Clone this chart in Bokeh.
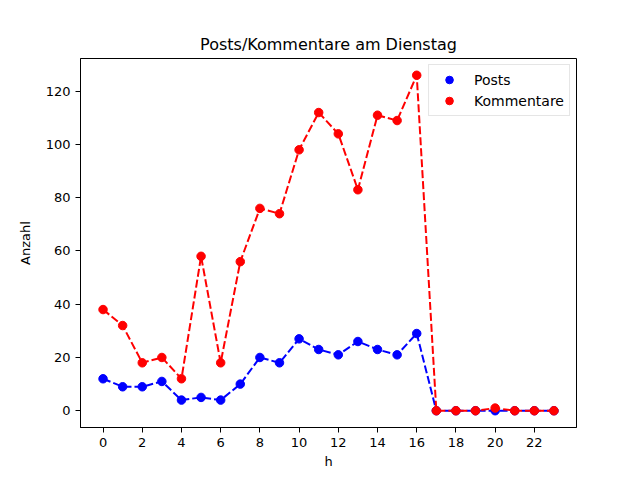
from bokeh.plotting import figure
from bokeh.models import Range1d, Legend, LegendItem, FixedTicker
from bokeh.embed import file_html
from bokeh.resources import INLINE

hours = list(range(24))
posts = [12, 9, 9, 11, 4, 5, 4, 10, 20, 18, 27, 23, 21, 26, 23, 21, 29, 0, 0, 0, 0, 0, 0, 0]
kommentare = [38, 32, 18, 20, 12, 58, 18, 56, 76, 74, 98, 112, 104, 83, 111, 109, 126, 0, 0, 0, 1, 0, 0, 0]
x_ticks = list(range(0, 24, 2))
y_ticks = list(range(0, 121, 20))

FONT = "DejaVu Sans"

p = figure(width=640, height=480, output_backend="svg", toolbar_location=None,
           x_range=Range1d(-1.15, 24.15), y_range=Range1d(-6.3, 132.3),
           title="Posts/Kommentare am Dienstag",
           min_border_left=80, min_border_right=64, min_border_top=58, min_border_bottom=53)
p.title.align = "center"
p.title.text_font = FONT
p.title.text_font_size = "16px"
p.title.text_font_style = "normal"
p.title.text_color = "black"
p.grid.visible = False
p.outline_line_color = "black"
p.outline_line_width = 1
p.outline_line_alpha = 1

for ax in (p.xaxis[0], p.yaxis[0]):
    ax.major_tick_in = 0
    ax.major_tick_out = 5
    ax.minor_tick_line_color = None
    ax.major_label_text_font = FONT
    ax.major_label_text_font_size = "13px"
    ax.major_label_text_color = "black"
    ax.axis_label_text_font = FONT
    ax.axis_label_text_font_size = "13px"
    ax.axis_label_text_font_style = "normal"
    ax.axis_label_text_color = "black"
    ax.axis_line_color = "black"
    ax.major_tick_line_color = "black"

p.xaxis[0].ticker = FixedTicker(ticks=x_ticks)
p.yaxis[0].ticker = FixedTicker(ticks=y_ticks)
p.xaxis[0].axis_label = "h"
p.yaxis[0].axis_label = "Anzahl"
p.yaxis[0].major_label_orientation = "horizontal"
p.xaxis[0].axis_label_standoff = 4
p.yaxis[0].axis_label_standoff = 10

p.line(hours, posts, line_color="blue", line_dash="8 3", line_width=2)
r_posts = p.scatter(hours, posts, marker="circle", size=8.5, fill_color="blue", line_color="blue")
p.line(hours, kommentare, line_color="red", line_dash="8 3", line_width=2)
r_komm = p.scatter(hours, kommentare, marker="circle", size=8.5, fill_color="red", line_color="red")

legend = Legend(items=[LegendItem(label="Posts", renderers=[r_posts]),
                       LegendItem(label="Kommentare", renderers=[r_komm])],
                location="top_right", margin=6, padding=5, spacing=2,
                label_text_font=FONT, label_text_font_size="14px",
                label_text_color="black",
                glyph_width=30, glyph_height=19, label_standoff=10,
                border_line_color="#cccccc", border_line_width=1,
                background_fill_alpha=0.8)
p.add_layout(legend)

open("out.html", "w").write(file_html(p, INLINE))
